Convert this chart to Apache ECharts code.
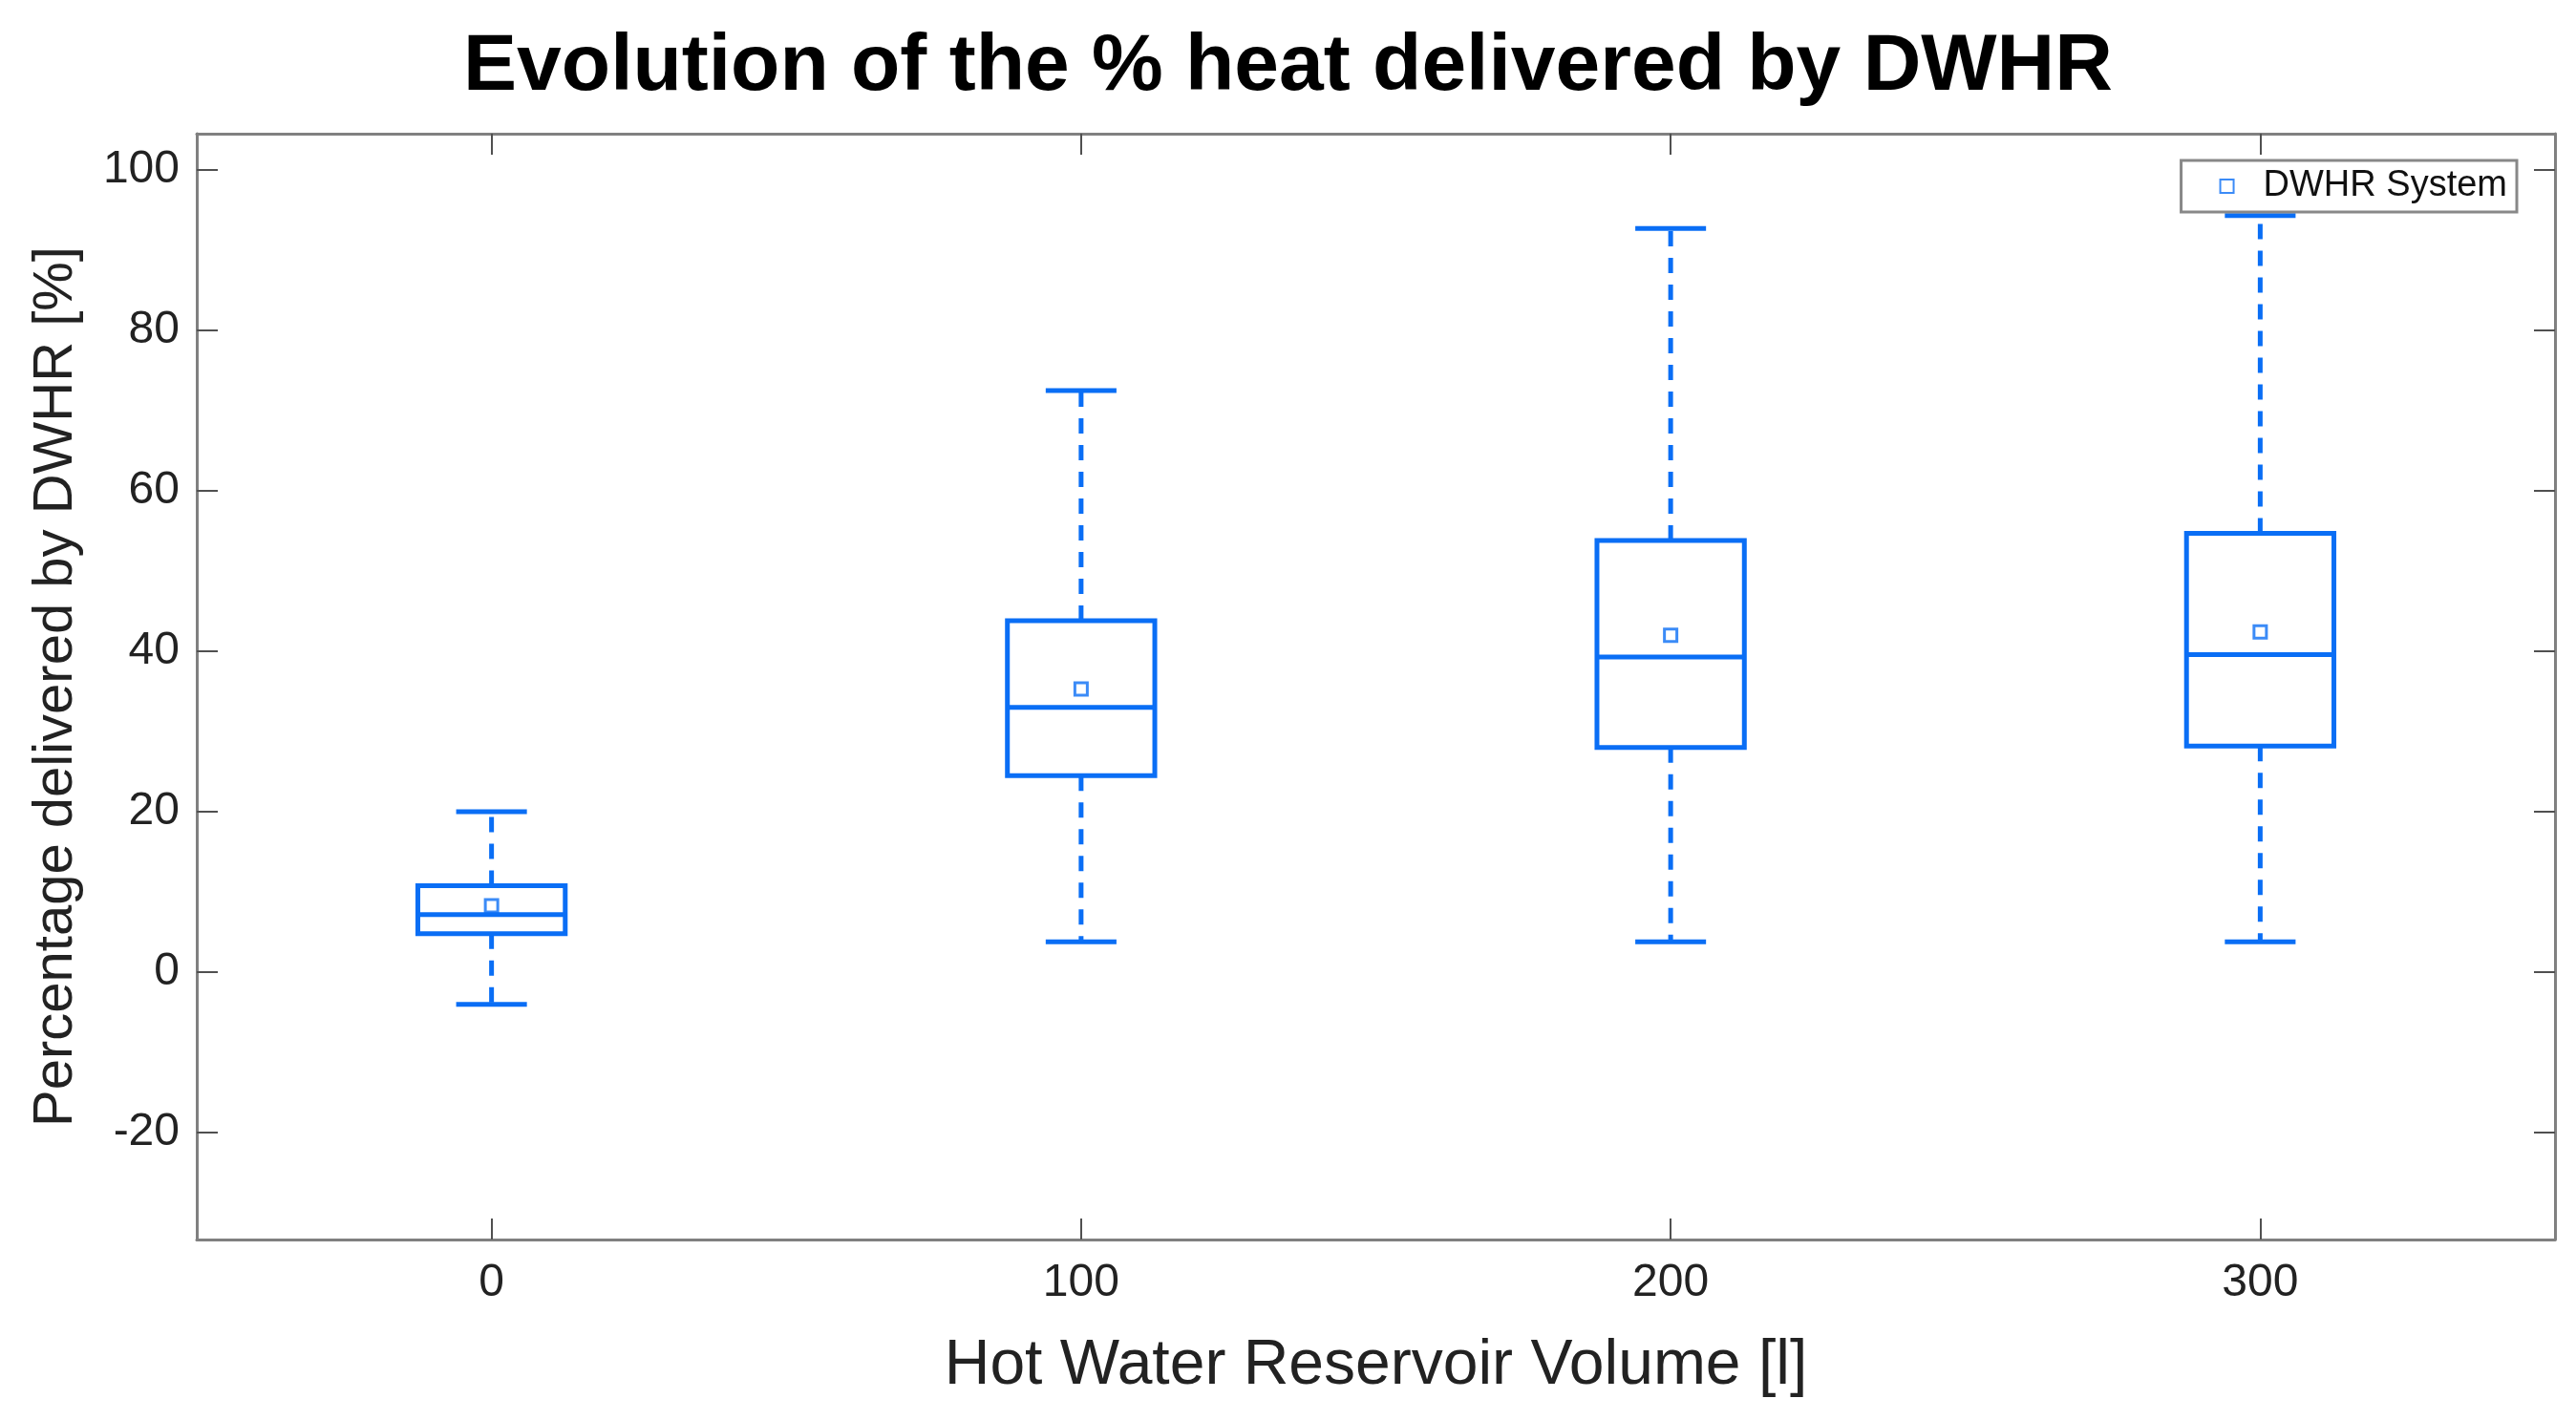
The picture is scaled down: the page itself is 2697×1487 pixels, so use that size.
<!DOCTYPE html>
<html>
<head>
<meta charset="utf-8">
<script src="https://cdn.jsdelivr.net/npm/echarts@6/dist/echarts.min.js"></script>
<style>html,body{margin:0;padding:0;background:#fff}#chart{width:2697px;height:1487px}</style>
</head>
<body>
<div id="chart"></div>
<script>
// reservoir volumes (l)
const volumes = [0, 100, 200, 300];
const whiskerLow = [-4, 3.8, 3.8, 3.8];
const q1 = [4.8, 24.5, 28, 28.2];
const median = [7.2, 33, 39.3, 39.6];
const q3 = [10.8, 43.8, 53.8, 54.7];
const whiskerHigh = [20, 72.5, 92.7, 94.3];
const means = [8.3, 35.3, 42, 42.4];
const yTicks = [-20, 0, 20, 40, 60, 80, 100];

const blue = '#0a6ef5';
const boxHalf = 12.5, capHalf = 6;

const boxData = volumes.map((v, i) => [v, whiskerLow[i], q1[i], median[i], q3[i], whiskerHigh[i]]);
const meanData = volumes.map((v, i) => [v, means[i]]);

function renderBox(params, api) {
    const x = api.value(0);
    const p = k => api.coord([x, api.value(k)]);
    const left = api.coord([x - boxHalf, 0])[0], right = api.coord([x + boxHalf, 0])[0];
    const cl = api.coord([x - capHalf, 0])[0], cr = api.coord([x + capHalf, 0])[0];
    const cx = p(1)[0];
    const [lo, b1, md, b3, hi] = [1, 2, 3, 4, 5].map(k => p(k)[1]);
    const solid = {stroke: blue, lineWidth: 5, fill: null};
    const dash = {stroke: blue, lineWidth: 5, lineDash: [16, 12]};
    return {type: 'group', children: [
        {type: 'line', shape: {x1: cx, y1: b3, x2: cx, y2: hi}, style: dash},
        {type: 'line', shape: {x1: cx, y1: b1, x2: cx, y2: lo}, style: dash},
        {type: 'line', shape: {x1: cl, y1: hi, x2: cr, y2: hi}, style: solid},
        {type: 'line', shape: {x1: cl, y1: lo, x2: cr, y2: lo}, style: solid},
        {type: 'rect', shape: {x: left, y: b3, width: right - left, height: b1 - b3}, style: {stroke: blue, lineWidth: 5, fill: '#fff'}},
        {type: 'line', shape: {x1: left, y1: md, x2: right, y2: md}, style: solid}
    ]};
}

const chart = echarts.init(document.getElementById('chart'));
const axisLine = {show: true, onZero: false, lineStyle: {color: '#808080', width: 3}};
const tick = {show: true, inside: true, length: 22, lineStyle: {color: '#505050', width: 2}};
chart.setOption({
    animation: false,
    title: {text: 'Evolution of the % heat delivered by DWHR', left: 'center', top: 24,
        textStyle: {fontFamily: 'Liberation Sans', fontWeight: 'bold', fontSize: 84, color: '#000'}},
    legend: {right: 62, top: 168, itemWidth: 14, itemHeight: 14, padding: [8, 10, 8, 40], itemGap: 10,
        borderColor: '#888', borderWidth: 3, backgroundColor: '#fff',
        textStyle: {fontFamily: 'Liberation Sans', fontSize: 38, color: '#111', padding: [0, 0, 0, 26]},
        data: [{name: 'DWHR System', icon: 'rect'}]},
    grid: {left: 206, right: 22, top: 140, bottom: 189},
    xAxis: [{type: 'value', min: -50, max: 350, interval: 50,
        axisLine: axisLine, axisTick: Object.assign({}, tick, {customValues: volumes}),
        axisLabel: {customValues: volumes, fontFamily: 'Liberation Sans', fontSize: 48, color: '#222', margin: 22},
        splitLine: {show: false},
        name: 'Hot Water Reservoir Volume [l]', nameLocation: 'middle', nameGap: 100,
        nameTextStyle: {fontFamily: 'Liberation Sans', fontSize: 66, color: '#222'}},
        {type: 'value', position: 'top', min: -50, max: 350, axisLine: axisLine,
        axisTick: Object.assign({}, tick, {customValues: volumes}), axisLabel: {show: false}, splitLine: {show: false}}],
    yAxis: [{type: 'value', min: -33.3, max: 104.5,
        axisLine: axisLine, axisTick: Object.assign({}, tick, {customValues: yTicks}),
        axisLabel: {customValues: yTicks, fontFamily: 'Liberation Sans', fontSize: 48, color: '#222', margin: 18},
        splitLine: {show: false},
        name: 'Percentage delivered by DWHR [%]', nameLocation: 'middle', nameGap: 118,
        nameTextStyle: {fontFamily: 'Liberation Sans', fontSize: 58, color: '#222'}},
        {type: 'value', position: 'right', min: -33.3, max: 104.5, axisLine: axisLine,
        axisTick: Object.assign({}, tick, {customValues: yTicks}), axisLabel: {show: false}, splitLine: {show: false}}],
    series: [
        {type: 'custom', name: 'box', renderItem: renderBox, data: boxData, encode: {x: 0, y: [1, 2, 3, 4, 5]}, z: 2},
        {type: 'scatter', name: 'DWHR System', data: meanData, symbol: 'rect', symbolSize: 13, z: 3,
            itemStyle: {color: '#fff', borderColor: blue, borderWidth: 3}}
    ]
});
</script>
</body>
</html>
